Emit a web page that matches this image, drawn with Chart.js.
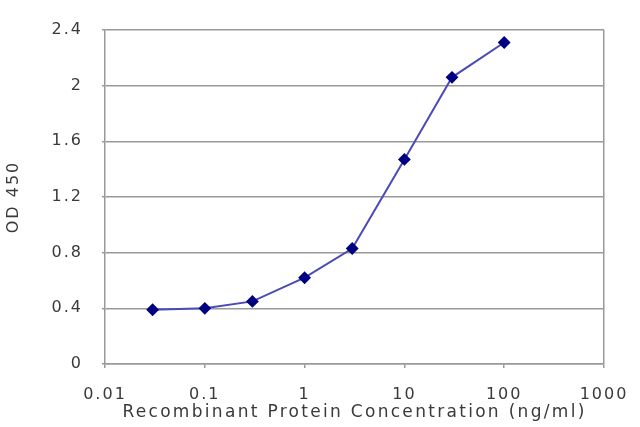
<!DOCTYPE html>
<html>
<head>
<meta charset="utf-8">
<script src="https://cdn.jsdelivr.net/npm/chart.js@4"></script>
<style>
  html, body { margin: 0; padding: 0; background: #fff; overflow: hidden; }
  #wrap { width: 640px; height: 427px; }
</style>
</head>
<body>
<div id="wrap"><canvas id="odChart"></canvas></div>
<script>
// Readings
const concentrations = [0.03, 0.1, 0.3, 1, 3, 10, 30, 100];
const od450 = [0.39, 0.40, 0.45, 0.62, 0.83, 1.47, 2.06, 2.31];
const xTickLabels = ['0.01', '0.1', '1', '10', '100', '1000'];

const isDecade = v => Math.abs(Math.log10(v) - Math.round(Math.log10(v))) < 1e-9;
const textFont = { family: 'DejaVu Sans', size: 16 };
const textColor = '#3a3a3a';

// the original lettering is stretched wide, so space the glyphs out
// (a bit more on the x axis title)
const wideText = {
    id: 'wideText',
    beforeLayout: c => { c.ctx.letterSpacing = '2px'; },
    beforeDraw: c => {
        c.ctx.letterSpacing = '2px';
        const xs = c.scales.x;
        if (!xs._wideTitle) {
            const orig = xs.drawTitle.bind(xs);
            xs.drawTitle = function () {
                this.ctx.letterSpacing = '2.3px';
                orig();
                this.ctx.letterSpacing = '2px';
            };
            xs._wideTitle = true;
        }
    }
};

new Chart(document.getElementById('odChart'), {
    type: 'line',
    plugins: [wideText],
    data: {
        datasets: [{
            data: concentrations.map((c, i) => ({ x: c, y: od450[i] })),
            borderColor: '#4a4ab8',
            borderWidth: 2,
            pointStyle: 'rectRot',
            pointRadius: 5,
            pointBackgroundColor: '#000080',
            pointBorderColor: '#000080',
            tension: 0
        }]
    },
    options: {
        responsive: true, maintainAspectRatio: false, animation: false,
        layout: { padding: { top: 30, right: 36, left: 0, bottom: 0 } },
        plugins: { legend: { display: false }, tooltip: { enabled: false } },
        scales: {
            x: {
                type: 'logarithmic', min: 0.01, max: 1000,
                afterFit: s => { s.height = 63; s.paddingLeft = 0; s.paddingRight = 0; },
                border: { color: '#999', width: 1.5 },
                grid: {
                    color: c => (c.tick && c.tick.value === 1000) ? '#999' : 'rgba(0,0,0,0)',
                    tickColor: c => (c.tick && isDecade(c.tick.value)) ? '#999' : 'rgba(0,0,0,0)',
                    lineWidth: 1.5, tickLength: 4
                },
                ticks: {
                    autoSkip: false, maxRotation: 0, padding: 19,
                    color: textColor, font: { family: 'DejaVu Sans', size: 16, lineHeight: 1 },
                    callback: v => isDecade(v) ? xTickLabels[Math.round(Math.log10(v)) + 2] : ''
                },
                title: {
                    display: true, text: 'Recombinant Protein Concentration (ng/ml)',
                    color: textColor, font: { family: 'DejaVu Sans', size: 17, lineHeight: 1 },
                    padding: { top: 0, bottom: 6 }
                }
            },
            y: {
                min: 0, max: 2.4,
                afterFit: s => { s.width = 105; },
                border: { color: '#999', width: 1.5 },
                grid: { color: '#999', lineWidth: 1.5, tickLength: 3 },
                ticks: {
                    stepSize: 0.4, padding: 19,
                    color: textColor, font: textFont,
                    callback: v => Number(v.toFixed(1)).toString()
                },
                title: {
                    display: true, text: 'OD 450',
                    color: textColor, font: textFont,
                    padding: { top: 4, bottom: 0 }
                }
            }
        }
    }
});
</script>
</body>
</html>
